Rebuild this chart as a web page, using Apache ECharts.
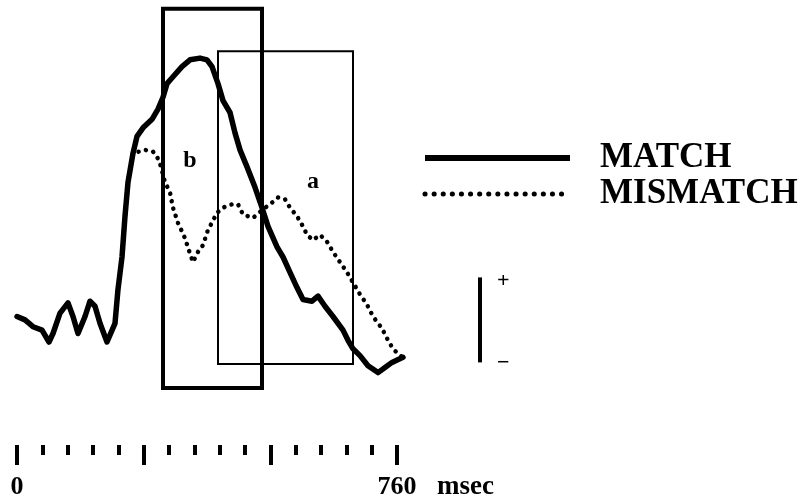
<!DOCTYPE html>
<html>
<head>
<meta charset="utf-8">
<script src="https://cdn.jsdelivr.net/npm/echarts@6/dist/echarts.min.js"></script>
<style>html,body{margin:0;padding:0;background:#fff}#c{width:810px;height:501px}</style>
</head>
<body>
<div id="c"></div>
<script>
// ---- data (time in ms, amplitude in µV) ----
const seriesNames = ['MATCH', 'MISMATCH'];
const matchWave = [
  [0,0.5],[16,0.3],[32,-0.1],[50,-0.3],[64,-1.0],[72,-0.5],[86,0.7],[102,1.3],[112,0.5],[122,-0.5],
  [136,0.5],[146,1.4],[156,1.1],[166,0.1],[180,-1.0],[196,0.1],[202,2.1],[210,4.0],[216,6.4],[222,8.4],
  [232,10.1],[240,11.1],[252,11.6],[270,12.1],[282,12.7],[292,13.4],[300,14.2],[312,14.6],[330,15.2],[346,15.6],
  [366,15.7],[380,15.6],[390,15.2],[402,14.2],[412,13.2],[426,12.5],[436,11.3],[446,10.3],[460,9.3],[476,8.1],
  [490,6.9],[502,5.8],[520,4.6],[532,4.0],[546,3.1],[560,2.2],[572,1.5],[590,1.4],[602,1.7],[616,1.1],
  [632,0.5],[652,-0.3],[662,-0.9],[672,-1.4],[686,-1.8],[702,-2.4],[722,-2.8],[736,-2.5],[750,-2.2],[772,-1.9]
];
const mismatchWave = [
  [0,0.5],[16,0.3],[32,-0.1],[50,-0.3],[64,-1.0],[72,-0.5],[86,0.7],[102,1.3],[112,0.5],[122,-0.5],
  [136,0.5],[146,1.4],[156,1.1],[166,0.1],[180,-1.0],[196,0.1],[202,2.1],[210,4.0],[216,6.4],[222,8.4],
  [232,10.1],[236,10.2],[256,10.3],[272,10.2],[280,9.9],[286,9.5],[296,8.4],[306,7.8],[312,6.9],[322,6.0],
  [330,5.5],[336,5.1],[346,4.2],[352,3.7],[362,4.3],[372,4.7],[382,5.6],[386,5.8],[400,6.6],[412,6.9],
  [430,7.1],[442,7.1],[452,6.5],[472,6.3],[492,6.8],[510,7.2],[522,7.5],[536,7.4],[546,6.9],[560,6.4],
  [572,5.8],[580,5.3],[592,5.0],[606,5.3],[620,4.9],[632,4.3],[646,3.7],[660,3.1],[672,2.5],[686,1.8],
  [700,1.2],[712,0.5],[730,-0.2],[742,-0.9],[752,-1.4],[766,-1.8],[772,-1.9]
];
// analysis windows: [startMs, endMs, lowAmp, highAmp]
const windowB = [292, 490, -3.7, 18.6];
const windowA = [402, 672, -2.3, 16.1];
const windowNames = ['b', 'a'];
// calibration bar: [timeMs, amp]
const scaleBar = [[926, 2.8], [926, -2.2]];
const scaleSigns = ['+', '\u2212'];
// ruler
const rulerMin = 0, rulerMax = 760;
const rulerLabels = ['0', '760'];
const rulerUnit = 'msec';

const serif = '"Liberation Serif", "Times New Roman", serif';
const chart = echarts.init(document.getElementById('c'), null, {renderer: 'canvas'});

const option = {
  animation: false,
  backgroundColor: '#fff',
  grid: [
    {left: 17, top: 2, width: 790, height: 391},
    {left: 17, top: 444, width: 380, height: 1}
  ],
  xAxis: [
    {gridIndex: 0, type: 'value', min: 0, max: 1580, show: false},
    {
      gridIndex: 1, type: 'value', min: rulerMin, max: rulerMax, interval: (rulerMax - rulerMin) / 3,
      axisLine: {show: false},
      axisTick: {show: true, length: 20, lineStyle: {width: 4, color: '#000'}},
      minorTick: {show: true, splitNumber: 5, length: 10, lineStyle: {width: 4, color: '#000'}},
      splitLine: {show: false}, minorSplitLine: {show: false},
      axisLabel: {
        margin: 29, fontFamily: serif, fontWeight: 'bold', fontSize: 26, color: '#000',
        formatter: function (v) {
          if (Math.abs(v - rulerMin) < 1e-6) return rulerLabels[0];
          if (Math.abs(v - rulerMax) < 1e-6) return rulerLabels[1];
          return '';
        }
      },
      name: rulerUnit, nameLocation: 'end', nameGap: 40,
      nameTextStyle: {fontFamily: serif, fontWeight: 'bold', fontSize: 27, color: '#000',
        align: 'left', verticalAlign: 'top', padding: [29, 0, 0, 0]}
    }
  ],
  yAxis: [
    {gridIndex: 0, type: 'value', min: -4, max: 19, show: false},
    {gridIndex: 1, type: 'value', show: false}
  ],
  legend: {
    orient: 'vertical', left: 422, top: 140, padding: 0, itemWidth: 145, itemHeight: 8, itemGap: 0,
    selectedMode: false,
    itemStyle: {opacity: 0},
    textStyle: {fontFamily: serif, fontWeight: 'bold', fontSize: 35, color: '#000',
      lineHeight: 24, padding: [0, 0, 12, 25]},
    data: [
      {name: seriesNames[0], lineStyle: {width: 6, type: 'solid', cap: 'butt'}},
      {name: seriesNames[1], lineStyle: {width: 5, type: [0.1, 9], cap: 'round'}}
    ]
  },
  series: [
    {
      name: seriesNames[1], type: 'line', xAxisIndex: 0, yAxisIndex: 0,
      data: mismatchWave, symbol: 'none', z: 2,
      lineStyle: {color: '#000', width: 4.5, type: [0.1, 7.5], cap: 'round'}
    },
    {
      name: seriesNames[0], type: 'line', xAxisIndex: 0, yAxisIndex: 0,
      data: matchWave, symbol: 'none', z: 3,
      lineStyle: {color: '#000', width: 5.5, join: 'round', cap: 'round'},
      markArea: {
        silent: true,
        itemStyle: {color: 'rgba(0,0,0,0)', borderColor: '#000'},
        label: {show: true, fontFamily: serif, fontWeight: 'bold', fontSize: 24, color: '#000',
          align: 'center', verticalAlign: 'middle'},
        data: [
          [{name: windowNames[0], coord: [windowB[0], windowB[3]], itemStyle: {borderWidth: 4},
            label: {position: [29, 154]}},
           {coord: [windowB[1], windowB[2]]}],
          [{name: windowNames[1], coord: [windowA[0], windowA[3]], itemStyle: {borderWidth: 2},
            label: {position: [96, 131]}},
           {coord: [windowA[1], windowA[2]]}]
        ]
      }
    },
    {
      name: 'scale', type: 'line', xAxisIndex: 0, yAxisIndex: 0,
      symbol: 'circle', symbolSize: 0.1, z: 3,
      lineStyle: {color: '#000', width: 4},
      itemStyle: {color: '#000'},
      label: {show: true, position: 'right', distance: 17, fontFamily: serif, fontWeight: 'bold',
        fontSize: 22, color: '#000'},
      data: [
        {value: scaleBar[0], label: {formatter: scaleSigns[0], offset: [0, 4]}},
        {value: scaleBar[1], label: {formatter: scaleSigns[1], offset: [0, 1]}}
      ]
    }
  ]
};
chart.setOption(option);
</script>
</body>
</html>
